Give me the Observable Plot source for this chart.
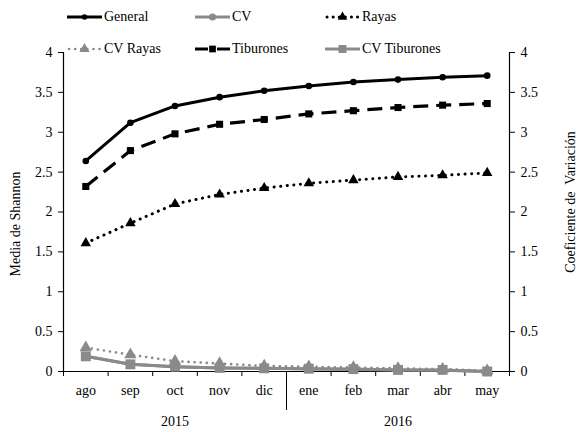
<!DOCTYPE html>
<html>
<head>
<meta charset="utf-8">
<script src="https://cdn.jsdelivr.net/npm/d3@7"></script>
<script src="https://cdn.jsdelivr.net/npm/@observablehq/plot@0.6"></script>
<style>
  html, body { margin: 0; padding: 0; background: #fff; }
  #wrap { position: relative; width: 577px; height: 432px; font-family: "Liberation Serif", "Times New Roman", serif; }
  .leg { position: absolute; display: flex; align-items: center; font-size: 14px; color: #000; white-space: nowrap; }
  .leg svg { flex: 0 0 auto; display: block; margin-right: 2px; }
</style>
</head>
<body>
<div id="wrap"></div>
<script>
// ---- data ----
const months = ["ago","sep","oct","nov","dic","ene","feb","mar","abr","may"];
const general     = [2.64, 3.12, 3.33, 3.44, 3.52, 3.58, 3.63, 3.66, 3.69, 3.71];
const cv          = [0.19, 0.09, 0.06, 0.045, 0.04, 0.03, 0.025, 0.02, 0.015, 0.0];
const rayas       = [1.61, 1.86, 2.10, 2.22, 2.30, 2.36, 2.40, 2.44, 2.46, 2.49];
const cvRayas     = [0.30, 0.21, 0.13, 0.10, 0.07, 0.06, 0.05, 0.04, 0.03, 0.01];
const tiburones   = [2.32, 2.77, 2.98, 3.10, 3.16, 3.23, 3.27, 3.31, 3.34, 3.36];
const cvTiburones = [0.19, 0.09, 0.06, 0.045, 0.04, 0.035, 0.03, 0.02, 0.02, 0.0];
const yearLabels  = ["2015", "2016"];
const yearSpans   = [[0, 5], [5, 10]];
const yTicks      = [0, 0.5, 1, 1.5, 2, 2.5, 3, 3.5, 4];
const seriesNames = ["General", "CV", "Rayas", "CV Rayas", "Tiburones", "CV Tiburones"];
const seriesValues = [general, cv, rayas, cvRayas, tiburones, cvTiburones];

// ---- styles ----
const GRAY = "#8a8a8a";
const styles = [
  {stroke: "#000", width: 3,   dash: null,      legDash: null,      cap: "butt",  symbol: "circle",   r: 3.3, lr: 2.8, fill: "#000"},
  {stroke: GRAY,   width: 3,   dash: null,      legDash: null,      cap: "butt",  symbol: "circle",   r: 4,   lr: 3.5, fill: GRAY},
  {stroke: "#000", width: 3,   dash: "0.1,6.5", legDash: "0.1,6",   cap: "round", symbol: "triangle", r: 3.9, lr: 3.5, fill: "#000"},
  {stroke: GRAY,   width: 2.6, dash: "0.1,6",   legDash: "0.1,6",   cap: "round", symbol: "triangle", r: 4.6, lr: 3.8, fill: GRAY},
  {stroke: "#000", width: 3.2, dash: "15,8",    legDash: "13,9,16", cap: "butt",  symbol: "square",   r: 4.0, lr: 3.8, fill: "#000"},
  {stroke: GRAY,   width: 3,   dash: null,      legDash: null,      cap: "butt",  symbol: "square",   r: 5.6, lr: 4.5, fill: GRAY}
];

const series = seriesNames.map((name, k) => ({
  name, style: styles[k],
  data: seriesValues[k].map((v, i) => ({x: i + 0.5, y: v, month: months[i]}))
}));

const marks = [];
// axes
marks.push(Plot.axisY({anchor: "left", ticks: yTicks, tickFormat: d => String(d), tickSize: 5, tickPadding: 6, label: null, fontSize: 14}));
marks.push(Plot.axisY({anchor: "right", ticks: yTicks, tickFormat: d => String(d), tickSize: 5, tickPadding: 6, label: null, fontSize: 14}));
marks.push(Plot.axisX({ticks: d3.range(0, months.length + 1), tickFormat: () => "", tickSize: 5, label: null}));
marks.push(Plot.axisX({ticks: months.map((m, i) => i + 0.5), tickFormat: v => months[Math.round(v - 0.5)], tickSize: 0, tickPadding: 14, label: null, fontSize: 14}));
// year separator
marks.push(Plot.axisX({ticks: [yearSpans[0][1]], tickFormat: () => "", tickSize: 39, label: null}));
marks.push(Plot.ruleX([0, months.length], {stroke: "#000", strokeWidth: 1.2}));
marks.push(Plot.ruleY([0], {stroke: "#000", strokeWidth: 1.2}));
// year labels
marks.push(Plot.text(yearLabels.map((t, i) => ({t, x: (yearSpans[i][0] + yearSpans[i][1]) / 2})),
  {x: "x", text: "t", frameAnchor: "bottom", dy: 54, fontSize: 14, fill: "#000"}));
// axis titles
marks.push(Plot.text(["Media de Shannon"], {text: d => d, frameAnchor: "left", textAnchor: "middle", rotate: -90, dx: -48, dy: 12, fontSize: 14, fill: "#000"}));
marks.push(Plot.text(["Coeficiente de  Variación"], {text: d => d, frameAnchor: "right", textAnchor: "middle", rotate: -90, dx: 61, dy: -10, fontSize: 14, fill: "#000"}));

// series lines + markers
for (const s of series) {
  const st = s.style;
  marks.push(Plot.line(s.data, {x: "x", y: "y", stroke: st.stroke, strokeWidth: st.width,
    strokeDasharray: st.dash, strokeLinecap: st.cap, strokeLinejoin: "round"}));
  marks.push(Plot.dot(s.data, {x: "x", y: "y", symbol: st.symbol, r: st.r, fill: st.fill, stroke: "none"}));
}

const chart = Plot.plot({
  width: 577, height: 432,
  marginLeft: 63, marginRight: 68, marginTop: 52, marginBottom: 61,
  x: {type: "linear", domain: [0, months.length], axis: null},
  y: {type: "linear", domain: [0, 4], axis: null},
  style: {fontFamily: "'Liberation Serif', 'Times New Roman', serif", fontSize: "14px", color: "#000", background: "#fff"},
  marks
});
const wrap = document.getElementById("wrap");
wrap.appendChild(chart);

// legend (HTML overlay)
const colX = [67, 195, 325];
const rowY = [17, 49];
const symType = {circle: d3.symbolCircle, triangle: d3.symbolTriangle, square: d3.symbolSquare};
series.forEach((s, k) => {
  const st = s.style;
  const div = document.createElement("div");
  div.className = "leg";
  div.style.left = colX[k % 3] + "px";
  div.style.top = (rowY[Math.floor(k / 3)] - 9) + "px";
  div.style.height = "18px";
  const w = 35, h = 14;
  const sym = d3.symbol(symType[st.symbol], Math.PI * st.lr * st.lr)();
  div.innerHTML = `<svg width="${w}" height="${h}" style="width:${w}px;height:${h}px" viewBox="0 0 ${w} ${h}">
    <line x1="${st.cap === "round" ? 2 : 0}" y1="${h/2}" x2="${w}" y2="${h/2}" stroke="${st.stroke}" stroke-width="${st.width}"
      ${st.legDash ? `stroke-dasharray="${st.legDash}"` : ""} stroke-linecap="${st.cap}"/>
    <path transform="translate(${w/2},${h/2})" d="${sym}" fill="${st.fill}"/>
  </svg><span>${s.name}</span>`;
  wrap.appendChild(div);
});
</script>
</body>
</html>
